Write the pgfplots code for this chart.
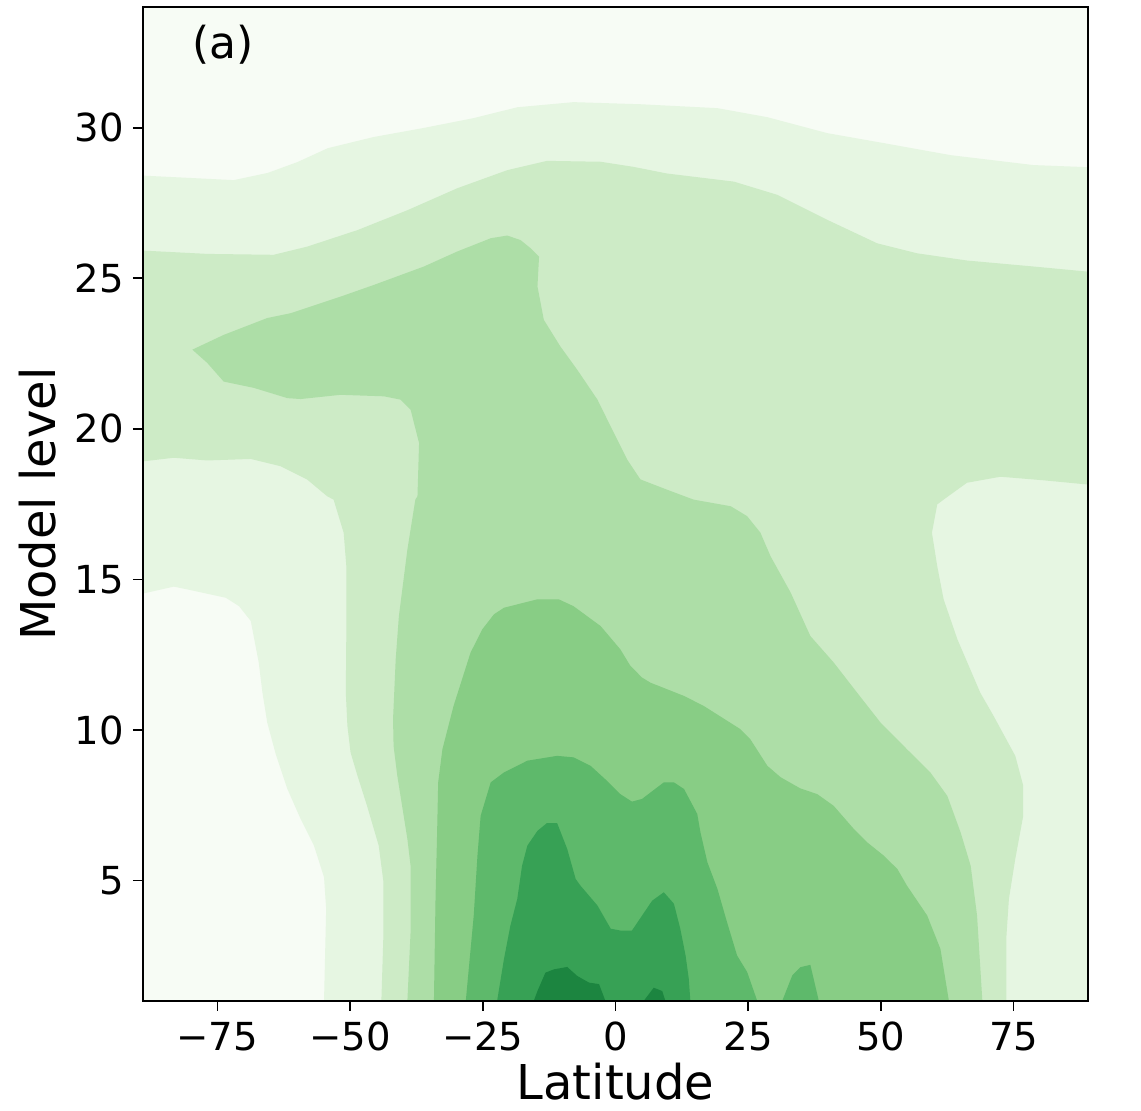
\documentclass[border=0pt]{standalone}
\usepackage{fontspec}
\setmainfont{DejaVu Sans}
\usepackage{pgfplots}
\pgfplotsset{compat=1.18}
\definecolor{g0}{HTML}{F7FCF5}
\definecolor{g1}{HTML}{E6F6E2}
\definecolor{g2}{HTML}{CDEBC6}
\definecolor{g3}{HTML}{ADDEA7}
\definecolor{g4}{HTML}{88CD85}
\definecolor{g5}{HTML}{5EB96B}
\definecolor{g6}{HTML}{37A155}
\definecolor{g7}{HTML}{1C8540}
\begin{document}
\begin{tikzpicture}
\begin{axis}[
  scale only axis, width=472.5pt, height=496.85pt,
  xmin=-89, xmax=89, ymin=1, ymax=34,
  axis on top,
  axis background/.style={fill=g0},
  axis line style={line width=1pt},
  tick pos=left,
  tick align=outside, major tick length=5pt,
  tick style={line width=0.8pt, black},
  xtick={-75,-50,-25,0,25,50,75}, xticklabels={−75,−50,−25,0,25,50,75},
  ytick={5,10,15,20,25,30}, yticklabels={5,10,15,20,25,30},
  ticklabel style={font=\fontsize{19.3}{23}\selectfont},
  xticklabel style={anchor=north, inner sep=0pt, yshift=-5.3pt},
  yticklabel style={anchor=east, inner sep=0pt, xshift=-4.5pt},
  xlabel={Latitude}, ylabel={Model level},
  label style={font=\fontsize{24}{29}\selectfont},
  xlabel style={at={(axis description cs:0.5,-0.0990)}, anchor=base, inner sep=0pt},
  ylabel style={at={(axis description cs:-0.0931,0.5)}, anchor=base, inner sep=0pt},
]
% level 1
\addplot[fill=g1, draw=none] coordinates {
(-89,28.41)(-71.9,28.26)(-65.5,28.50)(-59.9,28.86)(-54.2,29.32)(-45.6,29.69)(-36.2,29.99)(-26.7,30.32)(-18.5,30.68)(-7.9,30.85)(4.7,30.78)(19.2,30.65)(28.6,30.35)(39.9,29.82)(50.5,29.49)(63.1,29.09)(78.7,28.76)(89,28.69)
(89,1)(-54.9,1)(-54.5,4.06)(-54.9,5.11)(-56.8,6.16)(-59.3,7.04)(-61.8,8.04)(-64.0,9.20)(-65.6,10.25)(-66.5,11.24)(-67.2,12.24)(-68.7,13.62)(-70.9,14.11)(-73.4,14.39)(-80.7,14.67)(-83.2,14.76)(-89,14.53)
} -- cycle;
% level 2
\addplot[fill=g2, draw=none] coordinates {
(-89,18.92)(-89,25.92)(-76.9,25.81)(-64.4,25.78)(-58.1,26.05)(-48.6,26.60)(-39.2,27.26)(-29.8,27.99)(-20.4,28.59)(-12.9,28.90)(-2.8,28.87)(3.4,28.70)(9.7,28.48)(22.3,28.21)(30.5,27.77)(39.9,26.94)(49.3,26.16)(56.8,25.83)(66.2,25.59)(78.8,25.39)(89,25.22)
(89,18.15)(80.7,18.29)(72.5,18.41)(66.2,18.21)(61.8,17.65)(60.6,17.49)(59.6,16.55)(60.6,15.44)(61.8,14.34)(64.4,13.01)(68.7,11.24)(71.2,10.47)(75.3,9.14)(76.8,8.15)(76.8,7.15)(75.3,5.72)(74.1,4.39)(73.6,3.06)(73.6,1)
(-44.1,1)(-43.7,3.29)(-43.7,4.94)(-44.6,6.16)(-46.8,7.48)(-48.6,8.48)(-49.9,9.25)(-50.5,10.14)(-50.8,11.24)(-50.7,13.23)(-50.7,15.44)(-51.2,16.55)(-53.1,17.65)(-54.3,17.76)(-58.1,18.32)(-63.1,18.76)(-68.7,19.00)(-76.9,18.95)(-83.2,19.04)
} -- cycle;
% level 3
\addplot[fill=g3, draw=none] coordinates {
(-79.7,22.63)(-73.8,23.12)(-65.6,23.68)(-61.2,23.84)(-51.8,24.39)(-45.5,24.78)(-36.1,25.39)(-29.8,25.89)(-23.5,26.33)(-20.4,26.42)(-17.9,26.27)(-16.0,26.00)(-14.4,25.72)(-14.7,24.73)(-13.5,23.62)(-10.4,22.74)(-7.2,21.96)(-3.4,20.97)(-0.3,19.86)(2.2,18.98)(4.7,18.32)(9.7,17.98)(14.7,17.65)(21.7,17.43)(24.8,17.10)(27.3,16.55)(29.2,15.77)(33.0,14.56)(36.7,13.12)(41.1,12.24)(45.5,11.24)(49.9,10.25)(54.9,9.36)(59.3,8.59)(62.5,7.81)(65.0,6.60)(66.9,5.49)(68.1,3.84)(69.1,1)
(-39.2,1)(-38.6,3.29)(-38.6,5.49)(-39.2,6.38)(-41.1,8.48)(-41.8,9.47)(-41.9,10.36)(-41.4,12.35)(-40.8,13.78)(-39.2,15.99)(-37.7,17.65)(-37.3,17.76)(-37.0,19.53)(-38.6,20.64)(-40.5,20.97)(-43.6,21.08)(-51.8,21.13)(-59.3,20.99)(-61.8,21.02)(-68.1,21.36)(-73.8,21.57)(-76.9,22.19)
} -- cycle;
% level 4
\addplot[fill=g4, draw=none] coordinates {
(-34.2,1)(-33.9,4.39)(-33.6,6.60)(-33.4,8.26)(-32.6,9.36)(-30.5,10.80)(-27.3,12.57)(-25.1,13.34)(-22.9,13.84)(-21.0,14.06)(-14.7,14.34)(-10.7,14.34)(-7.9,14.11)(-2.8,13.45)(0.9,12.68)(2.8,12.13)(5.0,11.74)(6.6,11.57)(12.9,11.13)(16.6,10.80)(23.5,10.03)(25.4,9.69)(28.6,8.81)(31.1,8.43)(34.8,8.06)(38.0,7.87)(41.1,7.48)(44.9,6.71)(47.4,6.27)(50.5,5.83)(53.1,5.38)(54.9,4.83)(58.7,3.84)(61.2,2.73)(62.8,1)
} -- cycle;
% level 5
\addplot[fill=g5, draw=none] coordinates {
(-28.2,1)(-26.7,3.84)(-26.0,5.83)(-25.4,7.15)(-23.5,8.26)(-21.0,8.59)(-16.6,8.98)(-11.0,9.14)(-7.9,9.09)(-4.7,8.81)(-1.6,8.31)(0.9,7.87)(3.1,7.62)(5.0,7.71)(9.1,8.26)(11.0,8.26)(12.9,8.04)(15.4,7.21)(16.0,6.60)(17.3,5.61)(19.2,4.72)(21.0,3.62)(22.9,2.51)(24.8,1.96)(26.7,1)
} -- cycle;
\addplot[fill=g5, draw=none] coordinates {
(31.4,1)(33.3,1.85)(34.8,2.12)(36.7,2.20)(38.3,1)
} -- cycle;
% level 6
\addplot[fill=g6, draw=none] coordinates {
(-22.3,1)(-21.0,2.40)(-19.8,3.50)(-18.5,4.39)(-17.6,5.49)(-16.6,6.16)(-14.7,6.65)(-12.9,6.91)(-11.0,6.91)(-9.1,6.05)(-7.5,5.05)(-6.6,4.83)(-3.4,4.17)(-0.9,3.40)(0.9,3.34)(3.1,3.34)(6.9,4.33)(9.1,4.61)(11.0,4.23)(12.2,3.40)(13.2,2.51)(13.8,1.74)(14.1,1)
} -- cycle;
% level 7
\addplot[fill=g7, draw=none] coordinates {
(-15.4,1)(-14.7,1.33)(-13.2,1.94)(-11.6,2.05)(-9.1,2.13)(-7.2,1.83)(-5.0,1.61)(-3.1,1.56)(-1.9,1)
} -- cycle;
\addplot[fill=g7, draw=none] coordinates {
(5.3,1)(7.2,1.44)(8.8,1.33)(9.4,1)
} -- cycle;
\node[anchor=base, font=\fontsize{22}{26}\selectfont] at (axis cs:-73.9,32.30) {(a)};
\end{axis}
\path ([xshift=-71.5pt,yshift=-55pt]current axis.south west) rectangle ([xshift=26.5pt,yshift=3.65pt]current axis.north east);
\end{tikzpicture}
\end{document}
